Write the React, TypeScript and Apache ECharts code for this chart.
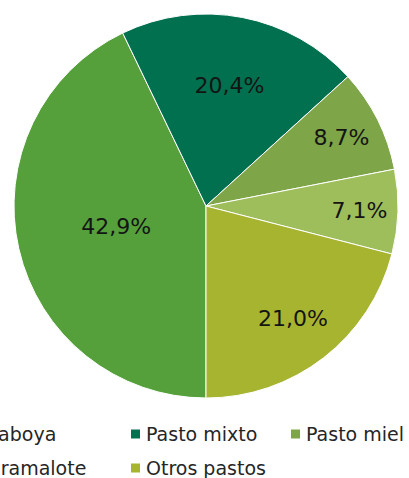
import React, { useEffect, useRef } from "react";
import * as echarts from "echarts";

const categories = ["Saboya", "Pasto mixto", "Pasto miel", "Gramalote", "Otros pastos"];
const shares = [42.9, 20.4, 8.7, 7.1, 21.0];
const colors = ["#56A03C", "#00704F", "#7EA547", "#9DBE5A", "#A7B42F"];

// label placement: fraction of radius along each slice's mid-angle
const labelRadius = [0.48, 0.64, 0.79, 0.8, 0.74];

const CX = 206;
const CY = 206;
const R = 192;
const FONT = "DejaVu Sans, sans-serif";

export default function App() {
  const ref = useRef<HTMLDivElement>(null);
  useEffect(() => {
    if (!ref.current) return;
    const chart = echarts.init(ref.current, undefined, { renderer: "svg" });
    const total = shares.reduce((a, b) => a + b, 0);
    const mids: number[] = [];
    let cum = 0;
    shares.forEach((v) => {
      mids.push(180 + (360 * (cum + v / 2)) / total);
      cum += v;
    });
    const legendStyle = {
      orient: "vertical" as const,
      top: 424,
      height: 100,
      padding: 0,
      itemWidth: 11,
      itemHeight: 11,
      itemGap: 14,
      icon: "rect",
      textStyle: { fontFamily: FONT, fontSize: 19, color: "#262626", lineHeight: 20 },
    };
    chart.setOption({
      animation: false,
      color: colors,
      legend: [
        { ...legendStyle, left: -31, data: ["Saboya", "Gramalote"] },
        { ...legendStyle, left: 129, data: ["Pasto mixto", "Otros pastos"] },
        { ...legendStyle, left: 289, data: ["Pasto miel"] },
      ],
      series: [
        {
          type: "pie",
          center: [CX, CY],
          radius: R,
          startAngle: -90,
          clockwise: true,
          itemStyle: { borderColor: "#ffffff", borderWidth: 1 },
          label: {
            show: true,
            position: "inside",
            fontFamily: FONT,
            fontSize: 22,
            color: "#141414",
            formatter: (p: any) => p.value.toFixed(1).replace(".", ",") + "%",
          },
          labelLine: { show: false },
          labelLayout: (params: any) => {
            const i = params.dataIndex;
            const a = (mids[i] * Math.PI) / 180;
            const r = R * labelRadius[i];
            return {
              x: CX + r * Math.sin(a),
              y: CY - r * Math.cos(a),
              align: "center",
              verticalAlign: "middle",
            };
          },
          emphasis: { disabled: true },
          data: categories.map((name, i) => ({ name, value: shares[i] })),
        },
      ],
    });
    return () => chart.dispose();
  }, []);
  return (
    <div
      ref={ref}
      style={{ position: "absolute", left: 0, top: 0, width: 409, height: 478, background: "#fff" }}
    />
  );
}
